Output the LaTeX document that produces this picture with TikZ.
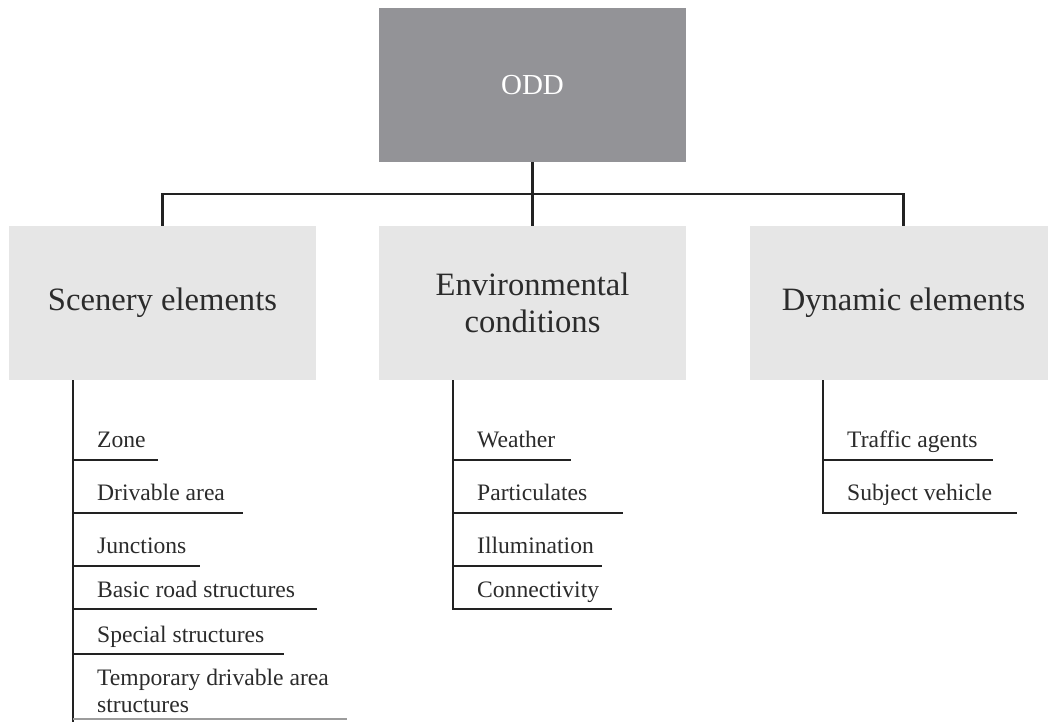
\documentclass[tikz,border=0pt]{standalone}
\usepackage{fontspec}
\setmainfont{Liberation Serif}
\definecolor{rootfill}{HTML}{939397}
\definecolor{catfill}{HTML}{E6E6E6}
\definecolor{ink}{HTML}{222222}
\definecolor{txt}{HTML}{2B2B2B}
\begin{document}
\begin{tikzpicture}[x=1pt,y=-1pt,
  rootbox/.style={fill=rootfill,draw=none,minimum width=307pt,minimum height=154pt,inner sep=0pt,
    text=white,font=\fontsize{29}{34}\selectfont},
  catbox/.style={fill=catfill,draw=none,minimum width=307pt,minimum height=154pt,inner sep=0pt,
    text=txt,align=center,font=\fontsize{32.6}{36.5}\selectfont},
  item/.style={anchor=base west,inner sep=0pt,text=txt,align=left,
    font=\fontsize{23.6}{27}\selectfont},
  link/.style={draw=ink,line width=2.5pt},
]
\clip (0,0) rectangle (1048,722);
\fill[white] (0,0) rectangle (1048,722);

% top level and the three categories
\node[rootbox] (odd) at (532.5,85) {ODD};
\node[catbox] (scen) at (162.5,303) {Scenery elements};
\node[catbox] (env)  at (532.5,303) {Environmental\\conditions};
\node[catbox] (dyn)  at (903.5,303) {Dynamic elements};

% tree connectors
\coordinate (bus) at (532.5,194);
\draw[link] (odd.south) -- (env.north);
\draw[link] (scen.north) |- (bus) -| (dyn.north);

% scenery elements list
\coordinate (s0) at (73,380);
\coordinate (s1) at (158,460);
\coordinate (s2) at (243,513);
\coordinate (s3) at (200,566);
\coordinate (s4) at (317,609);
\coordinate (s5) at (284,654);
\coordinate (s6) at (347,719);
\draw[link] (s0) -- (s0 |- 0,722);
\foreach \c in {s1,s2,s3,s4,s5}{\draw[link] (s0 |- \c) -- (\c);}
\draw[link,draw=ink!45] (s0 |- s6) -- (s6);
\node[item] (zone) at (97,447) {Zone};
\node[item] (driv) at (97,500) {Drivable area};
\node[item] (junc) at (97,553) {Junctions};
\node[item] (basic) at (97,597) {Basic road structures};
\node[item] (spec) at (97,642) {Special structures};
% two-line label: its base anchor sits on the last line
\node[item] (temp) at (97,712) {Temporary drivable area\\structures};

% environmental conditions list
\coordinate (e0) at (453,380);
\coordinate (e1) at (571,460);
\coordinate (e2) at (623,513);
\coordinate (e3) at (602,566);
\coordinate (e4) at (612,609);
\draw[link] (e0) -- (e0 |- e4) -- (e4);
\foreach \c in {e1,e2,e3}{\draw[link] (e0 |- \c) -- (\c);}
\node[item] (weat) at (477,447) {Weather};
\node[item] (part) at (477,500) {Particulates};
\node[item] (illu) at (477,553) {Illumination};
\node[item] (conn) at (477,597) {Connectivity};

% dynamic elements list
\coordinate (d0) at (823,380);
\coordinate (d1) at (993,460);
\coordinate (d2) at (1017,513);
\draw[link] (d0) -- (d0 |- d2) -- (d2);
\draw[link] (d0 |- d1) -- (d1);
\node[item] (traf) at (847,447) {Traffic agents};
\node[item] (subj) at (847,500) {Subject vehicle};
\end{tikzpicture}
\end{document}
